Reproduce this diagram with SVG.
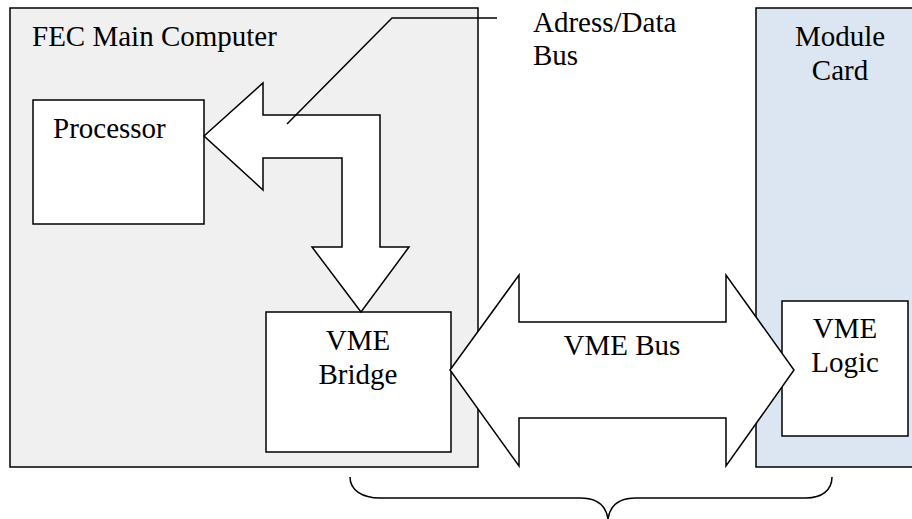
<svg xmlns="http://www.w3.org/2000/svg" width="912" height="519" viewBox="0 0 912 519">
  <style>
    .box { stroke: #000; stroke-width: 1.5; }
    .arrow { fill: #fff; stroke: #000; stroke-width: 1.5; stroke-linejoin: miter; }
    .line { fill: none; stroke: #000; stroke-width: 1.5; }
    text { font-family: "Liberation Serif", "Times New Roman", serif; font-size: 29px; fill: #000; }
    .mid { text-anchor: middle; }
  </style>
  <rect width="912" height="519" fill="#fff"/>

  <g id="fec-main-computer">
    <rect class="box" x="10" y="8" width="468" height="459" fill="#f0f0f0"/>
    <text x="32" y="46">FEC Main Computer</text>
  </g>

  <g id="module-card">
    <rect class="box" x="756" y="8" width="170" height="459" fill="#dce6f2"/>
    <text class="mid" x="840" y="46">Module</text>
    <text class="mid" x="840" y="80">Card</text>
  </g>

  <g id="processor">
    <rect class="box" x="33" y="100" width="171" height="124" fill="#fff"/>
    <text x="53" y="138">Processor</text>
  </g>

  <g id="vme-bridge">
    <rect class="box" x="266" y="312" width="185" height="140" fill="#fff"/>
    <text class="mid" x="358" y="350">VME</text>
    <text class="mid" x="358" y="384">Bridge</text>
  </g>

  <g id="vme-logic">
    <rect class="box" x="782" y="301" width="126" height="135" fill="#fff"/>
    <text class="mid" x="845" y="338">VME</text>
    <text class="mid" x="845" y="372">Logic</text>
  </g>

  <g id="connectors">
    <!-- address/data bus: processor to bridge -->
    <path class="arrow" d="M204,136 L263,83 L263,115 L380,115 L380,247 L409,247 L361,312 L312,247 L342,247 L342,158 L263,158 L263,190 Z"/>
    <!-- VME bus: bridge to module logic -->
    <path class="arrow" d="M450,370 L519,275 L519,322 L726,322 L726,275 L794,370 L726,466 L726,418 L519,418 L519,466 Z"/>
    <text class="mid" x="622" y="355">VME Bus</text>
    <!-- callout for the address/data bus -->
    <polyline class="line" points="287,124 392,18 497,18"/>
    <text x="533" y="32">Adress/Data</text>
    <text x="533" y="65">Bus</text>
    <!-- brace under the VME bus span -->
    <path class="line" d="M350,477 C350,490 362,498 380,498 L580,498 C596,498 606,505 608,519 M608,519 C610,505 620,498 636,498 L806,498 C822,498 832,490 832,477"/>
  </g>
</svg>
